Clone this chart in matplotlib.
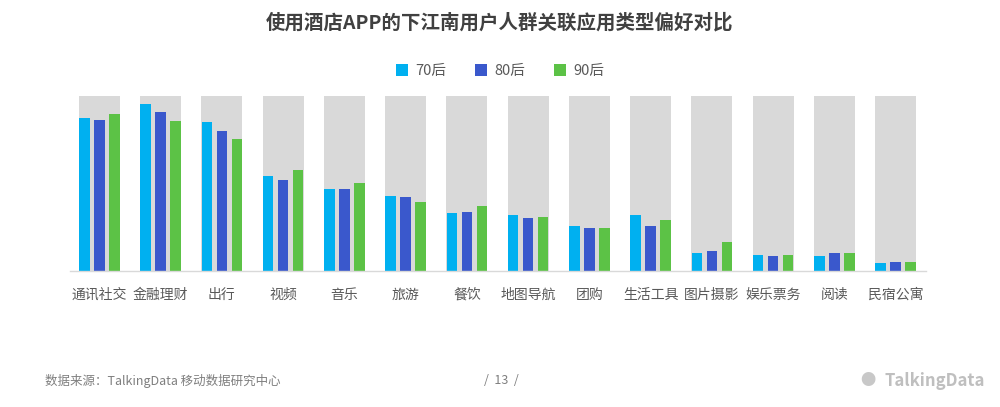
import matplotlib
matplotlib.use("Agg")
import matplotlib.pyplot as plt
import numpy as np

plt.rcParams['font.family'] = ['Noto Sans CJK SC', 'DejaVu Sans']

categories = ["通讯社交", "金融理财", "出行", "视频", "音乐", "旅游", "餐饮",
              "地图导航", "团购", "生活工具", "图片摄影", "娱乐票务", "阅读", "民宿公寓"]
series_names = ["70后", "80后", "90后"]
v70 = [87.0, 95.3, 85.2, 54.2, 47.0, 42.8, 32.9, 32.1, 25.7, 32.1, 10.1, 8.9, 8.4, 4.8]
v80 = [85.9, 90.5, 79.7, 51.9, 46.6, 42.2, 33.5, 30.4, 24.3, 25.7, 11.2, 8.4, 10.1, 5.3]
v90 = [89.5, 85.6, 75.5, 57.6, 50.0, 39.2, 36.9, 31.0, 24.3, 29.1, 16.7, 8.9, 10.1, 5.3]
full = [100] * len(categories)

colors = ["#00B0F0", "#3A58CC", "#5CC246"]
grey = "#D9D9D9"

fig = plt.figure(figsize=(10, 4.07), dpi=100)
ax = fig.add_axes([0.070, 0.334, 0.856, 0.431])

x = np.arange(len(categories))
ax.bar(x, full, width=0.67, color=grey, zorder=1)
w = 0.17
off = 0.245
for i, (vals, c) in enumerate(zip([v70, v80, v90], colors)):
    ax.bar(x + (i - 1) * off, vals, width=w, color=c, zorder=2, label=series_names[i])

ax.set_xlim(-0.48, len(categories) - 1 + 0.495)
ax.set_ylim(0, 100)
ax.set_yticks([])
ax.set_xticks(x)
ax.set_xticklabels(categories, fontsize=10, color="#595959")
ax.tick_params(axis='x', length=0, pad=12)
for s in ["top", "right", "left"]:
    ax.spines[s].set_visible(False)
ax.spines["bottom"].set_color("#D9D9D9")
ax.spines["bottom"].set_linewidth(1.0)

leg = fig.legend(loc="center", bbox_to_anchor=(0.5, 0.826), ncol=3, frameon=False,
                 fontsize=10.5, handlelength=0.85, handleheight=0.85, columnspacing=2.0,
                 handletextpad=0.45)
for t in leg.get_texts():
    t.set_color("#595959")

fig.text(0.5, 0.945, "使用酒店APP的下江南用户人群关联应用类型偏好对比", ha="center", va="center",
         fontsize=14, fontweight="bold", color="#404040")

fig.text(0.045, 0.064, "数据来源：TalkingData 移动数据研究中心", ha="left", va="center",
         fontsize=9, color="#7F7F7F")
fig.text(0.501, 0.064, "/  13  /", ha="center", va="center", fontsize=9, color="#7F7F7F")
fig.text(0.985, 0.064, "TalkingData", ha="right", va="center", fontsize=12,
         fontweight="bold", color="#BFBFBF")
fig.text(0.868, 0.064, "●", ha="center", va="center", fontsize=11, color="#C8C8C8")

fig.savefig("out.png", dpi=100)
